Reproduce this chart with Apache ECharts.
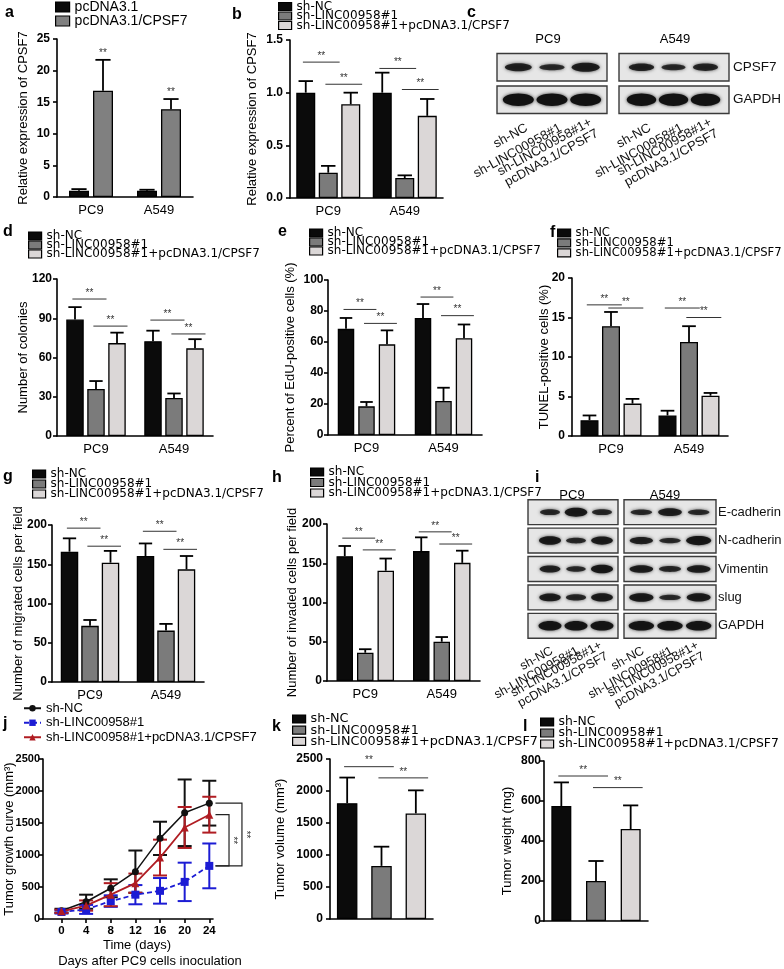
<!DOCTYPE html>
<html><head><meta charset="utf-8">
<script src="https://cdn.jsdelivr.net/npm/echarts@6/dist/echarts.min.js"></script>
<style>html,body{margin:0;padding:0;background:#fff}#c{width:784px;height:969px}</style>
</head><body><div id="c"></div>
<script>
// ================= DATA =================
const cellLines = ['PC9', 'A549'];
const groupNames = ['sh-NC', 'sh-LINC00958#1', 'sh-LINC00958#1+pcDNA3.1/CPSF7'];
const vectorNames = ['pcDNA3.1', 'pcDNA3.1/CPSF7'];
const laneLabels = ['sh-NC', 'sh-LINC00958#1', 'sh-LINC00958#1+\npcDNA3.1/CPSF7'];

// a : relative expression of CPSF7  [vector][cellLine]
const aMean = [[1.0, 1.0], [16.8, 13.9]];
const aErr  = [[0.25, 0.15], [4.9, 1.6]];
const aTicks = [0, 25, 5];

// b : relative expression of CPSF7  [group][cellLine]
const bMean = [[1.0, 1.0], [0.24, 0.19], [0.89, 0.78]];
const bErr  = [[0.11, 0.19], [0.065, 0.025], [0.11, 0.16]];
const bSig  = [[0, 0, 1, 1.29], [0, 1, 2, 1.08], [1, 0, 1, 1.23], [1, 1, 2, 1.03]];
const bTicks = [0, 1.5, 0.5];

// c : western blot band strength [row][lane]
const cRows = ['CPSF7', 'GAPDH'];
const cPC9Bands  = [[0.5, 0.3, 0.62], [1, 1, 1]];
const cA549Bands = [[0.45, 0.3, 0.42], [1, 1, 1]];

// d : number of colonies
const dMean = [[89, 72.5], [36, 29], [71, 67]];
const dErr  = [[9.5, 8], [6, 3.5], [8, 7]];
const dSig  = [[0, 0, 1, 104.7], [0, 1, 2, 84], [1, 0, 1, 88.6], [1, 1, 2, 78]];
const dTicks = [0, 120, 30];

// e : EdU-positive cells (%)
const eMean = [[68.5, 75.5], [18.5, 22], [58.5, 62.5]];
const eErr  = [[7, 9], [2.8, 8.5], [9, 8.8]];
const eSig  = [[0, 0, 1, 81], [0, 1, 2, 72], [1, 0, 1, 89], [1, 1, 2, 77]];
const eTicks = [0, 100, 20];

// f : TUNEL-positive cells (%)
const fMean = [[2.0, 2.6], [13.9, 11.9], [4.1, 5.1]];
const fErr  = [[0.6, 0.6], [1.8, 2.0], [0.6, 0.35]];
const fSig  = [[0, 0, 1, 16.6], [0, 1, 2, 16.2], [1, 0, 1, 16.2], [1, 1, 2, 15.0]];
const fTicks = [0, 20, 5];

// g : migrated cells per field
const gMean = [[166, 160.5], [71.5, 65.5], [152, 143.5]];
const gErr  = [[17, 16], [7.5, 8.5], [15, 17]];
const gSig  = [[0, 0, 1, 196], [0, 1, 2, 173], [1, 0, 1, 192], [1, 1, 2, 169]];
const gTicks = [0, 200, 50];

// h : invaded cells per field
const hMean = [[159, 165.5], [36, 50], [140.5, 150.5]];
const hErr  = [[13, 17.5], [4.5, 6], [15.5, 15.5]];
const hSig  = [[0, 0, 1, 182], [0, 1, 2, 167], [1, 0, 1, 190], [1, 1, 2, 174.5]];
const hTicks = [0, 200, 50];

// i : western blot band strength [row][lane]
const iRows = ['E-cadherin', 'N-cadherin', 'Vimentin', 'slug', 'GAPDH'];
const iPC9Bands  = [[0.35, 0.75, 0.35], [0.7, 0.35, 0.65], [0.5, 0.3, 0.7], [0.6, 0.4, 0.65], [0.85, 0.85, 0.85]];
const iA549Bands = [[0.3, 0.6, 0.3], [0.55, 0.3, 0.8], [0.6, 0.35, 0.6], [0.7, 0.3, 0.65], [0.85, 0.85, 0.85]];

// j : tumor growth curve
const jDays   = [0, 4, 8, 12, 16, 20, 24];
const jNC     = [130, 270, 480, 740, 1260, 1660, 1810];
const jNCErr  = [30, 110, 140, 330, 260, 520, 350];
const jKD     = [110, 150, 280, 380, 440, 580, 830];
const jKDErr  = [25, 70, 90, 150, 200, 300, 350];
const jRes    = [120, 210, 380, 560, 960, 1430, 1630];
const jResErr = [25, 80, 180, 150, 280, 320, 280];
const jBrackets = [[0, 1], [2, 1]];
const jYTicks = [0, 2500, 500];

// k : tumor volume
const kMean = [1810, 830, 1650];
const kErr  = [400, 300, 360];
const kSig  = [[0, 1, 2380], [1, 2, 2205]];
const kTicks = [0, 2500, 500];

// l : tumor weight
const lMean = [575, 200, 460];
const lErr  = [118, 100, 118];
const lSig  = [[0, 1, 725], [1, 2, 667]];
const lTicks = [0, 800, 200];

// ================= STYLE / LAYOUT =================
const FONT = '"Liberation Sans", Arial, Helvetica, sans-serif';
const WIDE = '"DejaVu Sans", "Liberation Sans", sans-serif';
const COLORS3 = ['#0b0b0b', '#7b7b7b', '#dbd7d7'];
const COLORSA = ['#0b0b0b', '#808080'];

const option = {
  animation: false,
  backgroundColor: '#ffffff',
  textStyle: { fontFamily: FONT, color: '#000' },
  grid: [], xAxis: [], yAxis: [], series: [], legend: [],
  graphic: { elements: [] }
};

function addGrid(l, t, w, h) {
  option.grid.push({ left: l, top: t, width: w, height: h, containLabel: false, outerBoundsMode: 'none', show: false });
  return option.grid.length - 1;
}
const AX = { color: '#000', width: 1.6 };

function valueAxis(g, ticks, o) {
  return {
    type: 'value', gridIndex: g, min: ticks[0], max: ticks[1], interval: ticks[2],
    axisLine: { show: true, onZero: false, lineStyle: AX },
    axisTick: { show: true, inside: false, length: 4, lineStyle: AX },
    axisLabel: { show: true, color: '#000', fontWeight: 'bold', fontSize: o.tickFont || 12, margin: o.labelMargin,
      showMinLabel: true, showMaxLabel: true, fontFamily: FONT, formatter: o.fmt || (v => String(v)) },
    splitLine: { show: false },
    name: o.title, nameLocation: 'middle', nameRotate: 90, nameGap: o.nameGap, nameMoveOverlap: false,
    nameTextStyle: { color: '#000', fontSize: 13, lineHeight: 14, fontFamily: FONT }
  };
}

function stars(x, y) {
  return { type: 'text', x: x, y: y, style: { text: '**', fontSize: 10, fill: '#333', align: 'center', verticalAlign: 'bottom', fontFamily: FONT } };
}

function addBarPanel(p) {
  const g = addGrid(p.left, p.top, p.width, p.height);
  option.xAxis.push({
    type: 'category', gridIndex: g, data: p.categories,
    axisLine: { show: true, onZero: false, lineStyle: AX },
    axisTick: { show: false },
    axisLabel: { show: p.showCats, interval: 0, color: '#000', fontSize: 13, margin: 7, fontFamily: FONT },
    splitLine: { show: false }
  });
  option.yAxis.push(valueAxis(g, p.ticks, p));
  const n = p.series.length;
  const slotOff = si => p.overlap ? 0 : (si - (n - 1) / 2) * (p.bw + p.gap);
  const names = [];
  p.series.forEach((s, si) => {
    const nm = p.id + '|' + s.name;
    names.push(nm);
    option.series.push({
      type: 'bar', name: nm, xAxisIndex: g, yAxisIndex: g,
      data: s.values.map(v => v == null ? '-' : v),
      barWidth: p.bw, barGap: p.overlap ? '-100%' : (p.gap / p.bw * 100) + '%',
      itemStyle: { color: s.color, borderColor: '#000', borderWidth: 1.3 },
      silent: true, z: 2
    });
    const ed = [];
    s.values.forEach((v, i) => { if (v != null) ed.push([i, v, s.errs[i]]); });
    option.series.push({
      type: 'custom', xAxisIndex: g, yAxisIndex: g, data: ed, silent: true, z: 3,
      renderItem: (params, api) => {
        const base = api.coord([api.value(0), api.value(1)]);
        const top = api.coord([api.value(0), api.value(1) + api.value(2)]);
        const x = base[0] + slotOff(si);
        const cw = p.bw * 0.38;
        const st = { stroke: '#000', lineWidth: 1.8 };
        const ch = [
          { type: 'line', shape: { x1: x, y1: base[1], x2: x, y2: top[1] }, style: st },
          { type: 'line', shape: { x1: x - cw, y1: top[1], x2: x + cw, y2: top[1] }, style: st }
        ];
        if (p.starSeries === si) ch.push(stars(x, top[1] - 2));
        return { type: 'group', children: ch };
      }
    });
  });
  if (p.sig && p.sig.length) {
    option.series.push({
      type: 'custom', xAxisIndex: g, yAxisIndex: g, data: p.sig, silent: true, z: 4,
      renderItem: (params, api) => {
        const a = api.coord([api.value(0), api.value(4)]);
        const b = api.coord([api.value(2), api.value(4)]);
        const x1 = a[0] + slotOff(api.value(1)) - 0.15 * p.bw;
        const x2 = b[0] + slotOff(api.value(3)) + 0.6 * p.bw;
        return { type: 'group', children: [
          { type: 'line', shape: { x1: x1, y1: a[1], x2: x2, y2: a[1] }, style: { stroke: '#333', lineWidth: 1 } },
          stars((x1 + x2) / 2, a[1] - 1)
        ]};
      }
    });
  }
  const L = p.legend;
  const fs = L.fs || 12;
  option.legend.push({
    show: true, orient: 'vertical', left: L.left, top: L.top, padding: 0,
    itemWidth: L.iw || 13, itemHeight: L.ih || 8, itemGap: L.pitch - fs,
    icon: 'rect', selectedMode: false, data: names,
    formatter: nm => nm.split('|')[1],
    textStyle: { fontSize: fs, lineHeight: fs, color: '#000', fontFamily: L.ff || WIDE },
    itemStyle: { borderColor: '#000', borderWidth: 1.2 }
  });
}

function grouped(mean, err) {
  return mean.map((vals, si) => ({ name: groupNames[si], values: vals, errs: err[si], color: COLORS3[si] }));
}
function single(mean, err) {
  return mean.map((v, si) => ({
    name: groupNames[si],
    values: groupNames.map((_, j) => j === si ? v : null),
    errs: groupNames.map((_, j) => j === si ? err[si] : 0),
    color: COLORS3[si]
  }));
}
const sigGrouped = s => s.map(([c, f, t, y]) => [c, f, c, t, y]);
const sigSingle = s => s.map(([f, t, y]) => [f, 0, t, 0, y]);

// ---- a ----
addBarPanel({ id: 'a', left: 57, top: 39, width: 136, height: 158, categories: cellLines, showCats: true,
  ticks: aTicks, bw: 20, gap: 4, starSeries: 1,
  series: aMean.map((vals, si) => ({ name: vectorNames[si], values: vals, errs: aErr[si], color: COLORSA[si] })),
  title: 'Relative expression of CPSF7', nameGap: 27, labelMargin: 7,
  legend: { left: 55, top: 0, pitch: 14, fs: 14, iw: 14, ih: 10, ff: FONT } });
// ---- b ----
addBarPanel({ id: 'b', left: 290, top: 40, width: 153, height: 158, categories: cellLines, showCats: true,
  ticks: bTicks, bw: 19, gap: 3.5, series: grouped(bMean, bErr), sig: sigGrouped(bSig),
  fmt: v => v.toFixed(1), title: 'Relative expression of CPSF7', nameGap: 31, labelMargin: 7,
  legend: { left: 278, top: 0.5, pitch: 9.5 } });
// ---- d ----
addBarPanel({ id: 'd', left: 57, top: 279, width: 156, height: 157, categories: cellLines, showCats: true,
  ticks: dTicks, bw: 17.5, gap: 3.5, series: grouped(dMean, dErr), sig: sigGrouped(dSig),
  title: 'Number of colonies', nameGap: 27, labelMargin: 5,
  legend: { left: 28, top: 230, pitch: 9 } });
// ---- e ----
addBarPanel({ id: 'e', left: 328, top: 280, width: 154, height: 155, categories: cellLines, showCats: true,
  ticks: eTicks, bw: 16.5, gap: 4, series: grouped(eMean, eErr), sig: sigGrouped(eSig),
  title: 'Percent of EdU-positive cells (%)', nameGap: 31, labelMargin: 4.5,
  legend: { left: 309, top: 227, pitch: 9 } });
// ---- f ----
addBarPanel({ id: 'f', left: 572, top: 278, width: 156, height: 158, categories: cellLines, showCats: true,
  ticks: fTicks, bw: 18, gap: 3.5, series: grouped(fMean, fErr), sig: sigGrouped(fSig),
  title: 'TUNEL-positive cells (%)', nameGap: 21, labelMargin: 7,
  legend: { left: 557, top: 227, pitch: 9.5, fs: 11.6 } });
// ---- g ----
addBarPanel({ id: 'g', left: 52, top: 525, width: 152, height: 157, categories: cellLines, showCats: true,
  ticks: gTicks, bw: 17.5, gap: 3, series: grouped(gMean, gErr), sig: sigGrouped(gSig),
  title: 'Number of migrated cells per field', nameGap: 27, labelMargin: 5,
  legend: { left: 32, top: 468, pitch: 10 } });
// ---- h ----
addBarPanel({ id: 'h', left: 327, top: 524, width: 153, height: 157, categories: cellLines, showCats: true,
  ticks: hTicks, bw: 16.5, gap: 4, series: grouped(hMean, hErr), sig: sigGrouped(hSig),
  title: 'Number of invaded cells per field', nameGap: 28, labelMargin: 5,
  legend: { left: 310, top: 466, pitch: 10.5 } });
// ---- k ----
addBarPanel({ id: 'k', left: 330, top: 759, width: 103, height: 160, categories: groupNames, showCats: false,
  ticks: kTicks, bw: 20.5, gap: 0, overlap: true, series: single(kMean, kErr), sig: sigSingle(kSig),
  title: 'Tumor volume (mm³)', nameGap: 43, labelMargin: 7,
  legend: { left: 292, top: 712.5, pitch: 11, fs: 12.8 } });
// ---- l ----
addBarPanel({ id: 'l', left: 544, top: 761, width: 104, height: 160, categories: groupNames, showCats: false,
  ticks: lTicks, bw: 20, gap: 0, overlap: true, series: single(lMean, lErr), sig: sigSingle(lSig),
  title: 'Tumor weight (mg)', nameGap: 30, labelMargin: 3,
  legend: { left: 540, top: 715.8, pitch: 11, fs: 12.4 } });

// ---- j : growth curve ----
(function () {
  const g = addGrid(43, 759, 170, 160);
  option.xAxis.push({
    type: 'value', gridIndex: g, min: -3, max: 24.6,
    axisLine: { show: true, onZero: false, lineStyle: AX },
    axisTick: { show: true, length: 4, customValues: jDays, lineStyle: AX },
    axisLabel: { show: true, customValues: jDays, color: '#000', fontWeight: 'bold', fontSize: 11.5, margin: 6, fontFamily: FONT },
    splitLine: { show: false }
  });
  option.yAxis.push(valueAxis(g, jYTicks, { title: 'Tumor growth curve (mm³)', nameGap: 27, tickFont: 11, labelMargin: 3 }));
  const js = [
    { name: groupNames[0], mean: jNC, err: jNCErr, color: '#111111', symbol: 'circle', size: 7, type: 'solid', lw: 1.5 },
    { name: groupNames[1], mean: jKD, err: jKDErr, color: '#1c1cd4', symbol: 'rect', size: 8, type: [5, 3], lw: 1.8 },
    { name: groupNames[2], mean: jRes, err: jResErr, color: '#b01c22', symbol: 'triangle', size: 8, type: 'solid', lw: 1.8 }
  ];
  const names = [];
  js.forEach((s) => {
    option.series.push({
      type: 'custom', xAxisIndex: g, yAxisIndex: g, silent: true, z: 3,
      data: jDays.map((d, i) => [d, s.mean[i], s.err[i]]),
      renderItem: (params, api) => {
        const lo = api.coord([api.value(0), api.value(1) - api.value(2)]);
        const hi = api.coord([api.value(0), api.value(1) + api.value(2)]);
        const st = { stroke: s.color, lineWidth: 2 };
        const cw = 7;
        return { type: 'group', children: [
          { type: 'line', shape: { x1: lo[0], y1: lo[1], x2: hi[0], y2: hi[1] }, style: st },
          { type: 'line', shape: { x1: hi[0] - cw, y1: hi[1], x2: hi[0] + cw, y2: hi[1] }, style: st },
          { type: 'line', shape: { x1: lo[0] - cw, y1: lo[1], x2: lo[0] + cw, y2: lo[1] }, style: st }
        ]};
      }
    });
  });
  js.forEach((s) => {
    const nm = 'j|' + s.name;
    names.push(nm);
    option.series.push({
      type: 'line', name: nm, xAxisIndex: g, yAxisIndex: g, silent: true, z: 5,
      data: jDays.map((d, i) => [d, s.mean[i]]),
      symbol: s.symbol, symbolSize: s.size, showSymbol: true,
      lineStyle: { color: s.color, width: s.lw, type: s.type },
      itemStyle: { color: s.color }
    });
  });
  const last = jDays.length - 1;
  const bracketX = [5.3, 3.2];
  option.series.push({
    type: 'custom', xAxisIndex: g, yAxisIndex: g, silent: true, z: 4,
    data: jBrackets.map(([a, b], k) => [k, js[a].mean[last], js[b].mean[last]]),
    renderItem: (params, api) => {
      const k = api.value(0), y1 = api.value(1), y2 = api.value(2);
      const xd = jDays[last];
      const p1 = api.coord([xd + 1, y1]), p2 = api.coord([xd + bracketX[k], y1]);
      const p3 = api.coord([xd + bracketX[k], y2]), p4 = api.coord([xd + 1, y2]);
      return { type: 'group', children: [
        { type: 'polyline', shape: { points: [p1, p2, p3, p4] }, style: { stroke: '#222', lineWidth: 1.2, fill: null } },
        { type: 'text', x: p2[0] + 3.5, y: (p2[1] + p3[1]) / 2, rotation: -Math.PI / 2,
          style: { text: '**', fontSize: 10, fill: '#333', align: 'center', verticalAlign: 'middle', fontFamily: FONT } }
      ]};
    }
  });
  option.legend.push({
    show: true, orient: 'vertical', left: 23, top: 701, padding: 0,
    itemWidth: 17, itemHeight: 8, itemGap: 0, selectedMode: false, data: names,
    formatter: nm => nm.split('|')[1],
    textStyle: { fontSize: 13, lineHeight: 14.5, color: '#000', fontFamily: FONT }
  });
})();

// ---- blots ----
function addBlot(b) {
  const g = addGrid(b.left, b.top, b.width, b.height);
  option.xAxis.push({ type: 'category', gridIndex: g, data: laneLabels, show: false });
  option.yAxis.push({
    type: 'category', gridIndex: g, data: b.rows, inverse: true, position: 'right',
    axisLine: { show: false }, axisTick: { show: false }, splitLine: { show: false },
    axisLabel: { show: b.showRows, margin: b.rowMargin || 6, color: '#111', fontSize: b.rowFont, fontFamily: FONT }
  });
  option.series.push({
    type: 'custom', xAxisIndex: g, yAxisIndex: g, silent: true, z: 2,
    data: b.rows.map((r, ri) => [0, ri]),
    renderItem: (params, api) => {
      const cs = params.coordSys;
      const c = api.coord([0, api.value(1)]);
      const band = api.size([1, 1])[1];
      return { type: 'rect', shape: { x: cs.x - b.padL, y: c[1] - band / 2 + b.gap / 2, width: cs.width + b.padL + b.padR, height: band - b.gap },
        style: { fill: '#e6e6e6', stroke: '#3a3a3a', lineWidth: 1.4 } };
    }
  });
  const bd = [];
  b.bands.forEach((row, ri) => row.forEach((s, li) => bd.push([li, ri, s])));
  option.series.push({
    type: 'custom', xAxisIndex: g, yAxisIndex: g, silent: true, z: 3, data: bd,
    renderItem: (params, api) => {
      const s = api.value(2);
      const c = api.coord([api.value(0), api.value(1)]);
      const sz = api.size([1, 1]);
      const w = sz[0] * (0.68 + 0.24 * s), h = sz[1] * (0.11 + 0.27 * s);
      const a = 0.72 + 0.28 * s;
      const col = 'rgba(18,18,18,' + a.toFixed(2) + ')';
      return { type: 'ellipse', shape: { cx: c[0], cy: c[1], rx: w / 2, ry: h / 2 },
        style: { fill: col, shadowBlur: 3.5, shadowColor: 'rgba(20,20,20,0.85)' } };
    }
  });
  const g2 = addGrid(b.left + b.dx, b.top, b.width, b.height);
  option.xAxis.push({
    type: 'category', gridIndex: g2, data: laneLabels,
    axisLine: { show: false }, axisTick: { show: false }, splitLine: { show: false },
    axisLabel: { show: true, interval: 0, rotate: 29, margin: b.laneMargin, color: '#111', fontSize: b.laneFont, lineHeight: b.laneFont, fontFamily: FONT }
  });
  option.yAxis.push({ type: 'value', gridIndex: g2, min: 0, max: 1, show: false });
}
addBlot({ left: 501.5, top: 51, width: 101, height: 65, padL: 4.5, padR: 4.5, gap: 5, rows: cRows, bands: cPC9Bands,
  showRows: false, dx: 8.5, laneMargin: 11, laneFont: 13, rowFont: 13.5 });
addBlot({ left: 625.5, top: 51, width: 96, height: 65, padL: 6.5, padR: 7.5, gap: 5, rows: cRows, bands: cA549Bands,
  showRows: true, rowMargin: 11.5, dx: 8.5, laneMargin: 11, laneFont: 13, rowFont: 13.5 });
addBlot({ left: 537, top: 498, width: 78, height: 142, padL: 9, padR: 3, gap: 3.5, rows: iRows, bands: iPC9Bands,
  showRows: false, dx: 2, laneMargin: 10, laneFont: 12.5, rowFont: 13 });
addBlot({ left: 627, top: 498, width: 86, height: 142, padL: 3, padR: 3, gap: 3.5, rows: iRows, bands: iA549Bands,
  showRows: true, rowMargin: 5, dx: 2, laneMargin: 10, laneFont: 12.5, rowFont: 13 });

// ---- free texts ----
const panelLetters = [['a', 5, 18], ['b', 232, 20], ['c', 467, 18], ['d', 3, 237], ['e', 278, 237], ['f', 550, 238],
  ['g', 3, 482], ['h', 272, 483], ['i', 535, 483], ['j', 3, 729], ['k', 272, 732], ['l', 523, 732]];
panelLetters.forEach(([t, x, base]) => option.graphic.elements.push({
  type: 'text', x: x, y: base - 5, silent: true,
  style: { text: t, fontSize: 16, fontWeight: 'bold', fill: '#000', align: 'left', verticalAlign: 'middle', fontFamily: FONT }
}));
const freeTexts = [['PC9', 548, 39], ['A549', 675, 39], ['PC9', 572, 495], ['A549', 665, 495],
  ['Time (days)', 137, 945], ['Days after PC9 cells inoculation', 150, 961]];
freeTexts.forEach(([t, x, y]) => option.graphic.elements.push({
  type: 'text', x: x, y: y, silent: true,
  style: { text: t, fontSize: 13, fill: '#000', align: 'center', verticalAlign: 'middle', fontFamily: FONT }
}));

const chart = echarts.init(document.getElementById('c'), null, { renderer: 'canvas' });
chart.setOption(option);
</script></body></html>
